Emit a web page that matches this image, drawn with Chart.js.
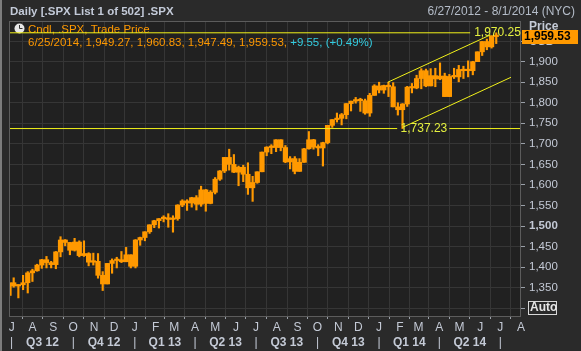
<!DOCTYPE html>
<html>
<head>
<meta charset="utf-8">
<script src="https://cdn.jsdelivr.net/npm/chart.js@4.4.1/dist/chart.umd.min.js"></script>
<style>
  html, body { margin: 0; padding: 0; background: #2a2a2a; }
  #wrap { position: relative; width: 581px; height: 351px; }
</style>
</head>
<body>
<div id="wrap"><canvas id="spxChart"></canvas></div>
<script>
// SPX price chart, candles one week at a time

const weekEnds = [
    '2012-06-29','2012-07-06','2012-07-13','2012-07-20','2012-07-27','2012-08-03','2012-08-10','2012-08-17','2012-08-24','2012-08-31',
    '2012-09-07','2012-09-14','2012-09-21','2012-09-28','2012-10-05','2012-10-12','2012-10-19','2012-10-26','2012-11-02','2012-11-09',
    '2012-11-16','2012-11-23','2012-11-30','2012-12-07','2012-12-14','2012-12-21','2012-12-28',
    '2013-01-04','2013-01-11','2013-01-18','2013-01-25','2013-02-01','2013-02-08','2013-02-15','2013-02-22','2013-03-01','2013-03-08',
    '2013-03-15','2013-03-22','2013-03-29','2013-04-05','2013-04-12','2013-04-19','2013-04-26','2013-05-03','2013-05-10','2013-05-17',
    '2013-05-24','2013-05-31','2013-06-07','2013-06-14','2013-06-21','2013-06-28','2013-07-05','2013-07-12','2013-07-19','2013-07-26',
    '2013-08-02','2013-08-09','2013-08-16','2013-08-23','2013-08-30','2013-09-06','2013-09-13','2013-09-20','2013-09-27','2013-10-04',
    '2013-10-11','2013-10-18','2013-10-25','2013-11-01','2013-11-08','2013-11-15','2013-11-22','2013-11-29','2013-12-06','2013-12-13',
    '2013-12-20','2013-12-27',
    '2014-01-03','2014-01-10','2014-01-17','2014-01-24','2014-01-31','2014-02-07','2014-02-14','2014-02-21','2014-02-28','2014-03-07',
    '2014-03-14','2014-03-21','2014-03-28','2014-04-04','2014-04-11','2014-04-18','2014-04-25','2014-05-02','2014-05-09','2014-05-16',
    '2014-05-23','2014-05-30','2014-06-06','2014-06-13','2014-06-20','2014-06-27'
];
const opens = [
    1331,1362,1354,1357,1362,1386,1391,1405,1418,1411,1406,1437,1466,1460,1441,1461,1428,1433,1412,1414,1380,1359,1409,1416,1418,1413,1430,
    1402,1466,1472,1486,1503,1513,1518,1520,1516,1518,1551,1561,1556,1569,1553,1588,1555,1582,1614,1634,1667,1650,1631,1643,1626,1593,
    1606,1632,1680,1692,1691,1710,1691,1656,1664,1633,1655,1688,1710,1692,1690,1703,1745,1759,1762,1771,1798,1804,1806,1805,1775,1818,
    1841,1831,1842,1839,1790,1783,1797,1838,1836,1859,1878,1841,1866,1858,1865,1815,1864,1863,1881,1878,1878,1900,1924,1949,1936,1963
];
const highs = [
    1363,1374,1357,1380,1389,1395,1407,1419,1426,1414,1438,1474,1467,1460,1470,1464,1464,1435,1434,1433,1389,1409,1420,1424,1438,1448,1430,
    1467,1473,1486,1503,1514,1518,1525,1530,1525,1552,1564,1564,1570,1574,1597,1589,1586,1618,1635,1667,1687,1674,1646,1648,1654,1621,
    1632,1680,1693,1698,1710,1710,1696,1669,1669,1664,1689,1730,1711,1698,1704,1745,1759,1775,1774,1798,1804,1813,1811,1809,1823,1844,
    1850,1843,1850,1849,1800,1798,1840,1847,1867,1883,1882,1883,1884,1897,1872,1869,1884,1891,1889,1902,1901,1924,1949,1955,1963,1970.25
];
const lows = [
    1325,1351,1325,1345,1337,1365,1390,1397,1398,1398,1396,1425,1452,1430,1439,1425,1426,1403,1405,1373,1343,1359,1385,1398,1411,1413,1398,
    1398,1453,1464,1482,1496,1495,1510,1497,1485,1514,1547,1538,1546,1539,1548,1536,1554,1578,1611,1630,1636,1630,1598,1608,1577,1560,
    1604,1632,1671,1676,1681,1683,1654,1639,1627,1633,1655,1687,1687,1671,1646,1700,1740,1753,1746,1761,1780,1799,1779,1772,1767,1818,
    1824,1823,1815,1790,1770,1737.23,1791,1824,1834,1834,1839,1841,1839,1856,1815,1815,1859,1851,1859,1863,1868,1900,1915,1929,1933,1944
];
const closes = [
    1362,1354,1357,1362,1386,1391,1405,1418,1411,1406,1437,1466,1460,1441,1461,1428,1433,1412,1414,1380,1359,1409,1416,1418,1413,1430,1402,
    1466,1472,1486,1503,1513,1518,1520,1516,1518,1551,1561,1556,1569,1553,1588,1555,1582,1614,1634,1667,1650,1631,1643,1626,1593,1606,
    1632,1680,1692,1691,1710,1691,1656,1664,1633,1655,1688,1710,1692,1690,1703,1745,1759,1762,1771,1798,1804,1806,1805,1775,1818,1841,
    1831,1842,1839,1790,1783,1797,1838,1836,1859,1878,1841,1866,1858,1865,1815,1864,1863,1881,1878,1878,1900,1924,1949,1936,1963,1961
];

// drawn lines: the two level lines and the trend channel
const periodHigh = 1970.25;
const periodLow = 1737.23;
const periodLowDate = '2014-02-05';
const upperChannel = [['2014-01-14', 1850], ['2014-06-16', 1965]];
const lowerChannel = [['2014-02-05', 1740], ['2014-07-17', 1862]];

// axes
const rangeStart = '2012-06-27';
const rangeEnd = '2014-08-01';
const priceTicks = [1300, 1350, 1400, 1450, 1500, 1550, 1600, 1650, 1700, 1750, 1800, 1850, 1900, 1950];
const monthStarts = [
    '2012-07-01','2012-08-01','2012-09-01','2012-10-01','2012-11-01','2012-12-01',
    '2013-01-01','2013-02-01','2013-03-01','2013-04-01','2013-05-01','2013-06-01',
    '2013-07-01','2013-08-01','2013-09-01','2013-10-01','2013-11-01','2013-12-01',
    '2014-01-01','2014-02-01','2014-03-01','2014-04-01','2014-05-01','2014-06-01','2014-07-01','2014-08-01'
];
const monthLabels = ['J','A','S','O','N','D','J','F','M','A','M','J','J','A','S','O','N','D','J','F','M','A','M','J','J','A'];
const quarterStarts = ['2012-07-01','2012-10-01','2013-01-01','2013-04-01','2013-07-01','2013-10-01','2014-01-01','2014-04-01','2014-07-01'];
const quarterLabels = ['Q3 12','Q4 12','Q1 13','Q2 13','Q3 13','Q4 13','Q1 14','Q2 14'];

// header readout
const cursorDate = '6/25/2014';
const cursorOHLC = [1949.27, 1960.83, 1947.49, 1959.53];
const cursorChange = '+9.55, (+0.49%)';

const ORANGE = '#ff9900';
const YELLOW = '#f2f21a';
const LABEL = '#c4cad6';
const FONT = '"Liberation Sans", Arial, sans-serif';

const baseMs = Date.parse(rangeStart);
function day(s) {
    return (Date.parse(s) - baseMs) / 864e5;
}
function fmt(v) {
    return v.toLocaleString('en-US', { minimumFractionDigits: v % 1 ? 2 : 0, maximumFractionDigits: 2 });
}

// candle centre = middle of the trading week
const wickData = weekEnds.map((d, i) => ({ x: day(d) - 2, y: [lows[i], highs[i]] }));
const bodyData = weekEnds.map((d, i) => ({ x: day(d) - 2, y: [opens[i], closes[i]] }));

function lineData(points) {
    return points.map(p => ({ x: day(p[0]), y: p[1] }));
}

const overlayPlugin = {
    id: 'overlay',
    beforeDraw(chart) {
        const { ctx, chartArea: a } = chart;
        ctx.save();
        ctx.fillStyle = '#212121';
        ctx.fillRect(a.left, a.top, a.right - a.left, a.bottom - a.top);
        ctx.restore();
    },
    beforeDatasetsDraw(chart) {
        const ctx = chart.ctx;
        ctx.save();
        // clock icon
        ctx.fillStyle = '#e6e6e6';
        ctx.beginPath();
        ctx.arc(19.5, 28.5, 5, 0, Math.PI * 2);
        ctx.fill();
        ctx.strokeStyle = '#333';
        ctx.lineWidth = 1;
        ctx.beginPath();
        ctx.moveTo(19.5, 25);
        ctx.lineTo(19.5, 28.5);
        ctx.lineTo(22.5, 28.5);
        ctx.stroke();

        ctx.font = '11.5px ' + FONT;
        ctx.textBaseline = 'middle';
        ctx.textAlign = 'left';
        ctx.fillStyle = ORANGE;
        ctx.fillText('Cndl, .SPX, Trade Price', 28, 30);
        const first = cursorDate + ', ' + cursorOHLC.map(fmt).join(', ') + ', ';
        ctx.fillText(first, 28, 43);
        ctx.fillStyle = '#33cce0';
        ctx.fillText(cursorChange, 28 + ctx.measureText(first).width, 43);
        ctx.restore();
    },
    afterDraw(chart) {
        const { ctx, chartArea: a, scales } = chart;
        const xs = scales.x, ys = scales.y;
        ctx.save();

        // plot frame and window edge
        ctx.strokeStyle = '#5c5c5c';
        ctx.lineWidth = 1;
        ctx.strokeRect(a.left + 0.5, a.top + 0.5, a.right - a.left - 1, a.bottom - a.top);
        ctx.fillStyle = '#7c7c7c';
        ctx.fillRect(0, 0, 2, chart.height);

        // title bar
        ctx.textBaseline = 'middle';
        ctx.font = 'bold 11.5px ' + FONT;
        ctx.fillStyle = '#c3cad8';
        ctx.textAlign = 'left';
        ctx.fillText('Daily [.SPX List 1 of 502] .SPX', 10, 12);
        ctx.font = '12px ' + FONT;
        ctx.fillStyle = '#b4bcc8';
        ctx.textAlign = 'right';
        ctx.fillText('6/27/2012 - 8/1/2014 (NYC)', 575, 12);

        // level labels
        ctx.textAlign = 'left';
        ctx.fillStyle = '#e4f040';
        ctx.fillText(fmt(periodHigh), xs.getPixelForValue(day('2014-05-17')) + 4, ys.getPixelForValue(periodHigh));
        ctx.fillText(fmt(periodLow), xs.getPixelForValue(day(periodLowDate)) - 2, ys.getPixelForValue(periodLow));

        // price axis title
        ctx.font = 'bold 12px ' + FONT;
        ctx.fillStyle = LABEL;
        ctx.fillText('Price', 529, 27);
        ctx.fillText('USD', 529, 42);

        // last price box
        const py = Math.round(ys.getPixelForValue(cursorOHLC[3]));
        ctx.fillStyle = ORANGE;
        ctx.fillRect(a.right + 1, py - 7, 56, 14);
        ctx.fillStyle = '#000';
        ctx.fillText(fmt(cursorOHLC[3]), a.right + 3, py);

        // Auto button
        const ay = Math.round(ys.getPixelForValue(1300));
        ctx.strokeStyle = '#d8d8d8';
        ctx.strokeRect(528.5, ay - 6.5, 28, 13);
        ctx.fillStyle = '#e6e6e6';
        ctx.fillText('Auto', 530, ay);
        ctx.restore();
    }
};

const ctx = document.getElementById('spxChart').getContext('2d');
const spxChart = new Chart(ctx, {
    type: 'bar',
    data: {
        datasets: [
            {
                label: 'wick',
                data: wickData,
                backgroundColor: ORANGE,
                barThickness: 1.5,
                grouped: false,
                order: 3
            },
            {
                label: 'body',
                data: bodyData,
                backgroundColor: ORANGE,
                barThickness: 4.6,
                minBarLength: 1.5,
                grouped: false,
                order: 2
            },
            {
                type: 'line',
                data: lineData([[rangeStart, periodHigh], ['2014-05-17', periodHigh]]),
                borderColor: YELLOW, borderWidth: 1, pointRadius: 0, order: 1
            },
            {
                type: 'line',
                data: lineData([[rangeStart, periodLow], ['2014-01-28', periodLow]]),
                borderColor: YELLOW, borderWidth: 1, pointRadius: 0, order: 1
            },
            {
                type: 'line',
                data: lineData([['2014-04-16', periodLow], [rangeEnd, periodLow]]),
                borderColor: YELLOW, borderWidth: 1, pointRadius: 0, order: 1
            },
            {
                type: 'line',
                data: lineData(upperChannel),
                borderColor: YELLOW, borderWidth: 1, pointRadius: 0, order: 1
            },
            {
                type: 'line',
                data: lineData(lowerChannel),
                borderColor: YELLOW, borderWidth: 1, pointRadius: 0, order: 1
            }
        ]
    },
    options: {
        responsive: true,
        maintainAspectRatio: false,
        animation: false,
        events: [],
        layout: { padding: { top: 21, left: 9, right: 0, bottom: 0 } },
        plugins: {
            legend: { display: false },
            tooltip: { enabled: false }
        },
        scales: {
            x: {
                type: 'linear',
                position: 'bottom',
                weight: 0,
                min: 0,
                max: day(rangeEnd),
                offset: false,
                grid: { color: '#363636', tickColor: '#9aa0a8', tickLength: 3 },
                border: { display: false },
                ticks: {
                    autoSkip: false,
                    maxRotation: 0,
                    padding: 1,
                    color: LABEL,
                    font: { family: FONT, size: 12 },
                    callback: (v, i, ticks) => ticks[i].m
                },
                afterBuildTicks: s => {
                    s.ticks = monthStarts.map((d, i) => ({ value: day(d), m: monthLabels[i] }));
                },
                afterFit: s => { s.height = 17; }
            },
            xq: {
                type: 'linear',
                position: 'bottom',
                weight: 1,
                min: 0,
                max: day(rangeEnd),
                offset: false,
                grid: { display: false, drawTicks: false },
                border: { display: false },
                ticks: {
                    autoSkip: false,
                    maxRotation: 0,
                    padding: 2,
                    color: LABEL,
                    font: c => ({ family: FONT, size: 12, weight: c.tick && c.tick.sep ? 'normal' : 'bold' }),
                    callback: (v, i, ticks) => ticks[i].q
                },
                afterBuildTicks: s => {
                    const bounds = quarterStarts.map(day);
                    const t = [];
                    bounds.forEach((b, i) => {
                        t.push({ value: b, q: '|', sep: true });
                        if (i < quarterLabels.length) {
                            t.push({ value: (b + bounds[i + 1]) / 2, q: quarterLabels[i], sep: false });
                        }
                    });
                    s.ticks = t;
                },
                afterFit: s => { s.height = 18; }
            },
            y: {
                position: 'right',
                min: 1281,
                max: 1999,
                grid: { color: '#363636', tickColor: '#9aa0a8', tickLength: 4 },
                border: { display: false },
                ticks: {
                    autoSkip: false,
                    padding: 4,
                    color: LABEL,
                    font: c => ({ family: FONT, size: 11.5, weight: c.tick && c.tick.value === 1500 ? 'bold' : 'normal' }),
                    callback: v => (v === 1300 || v === 1950) ? '' : fmt(v)
                },
                afterBuildTicks: s => {
                    s.ticks = priceTicks.map(v => ({ value: v }));
                },
                afterFit: s => { s.width = 60; }
            }
        }
    },
    plugins: [overlayPlugin]
});
</script>
</body>
</html>
